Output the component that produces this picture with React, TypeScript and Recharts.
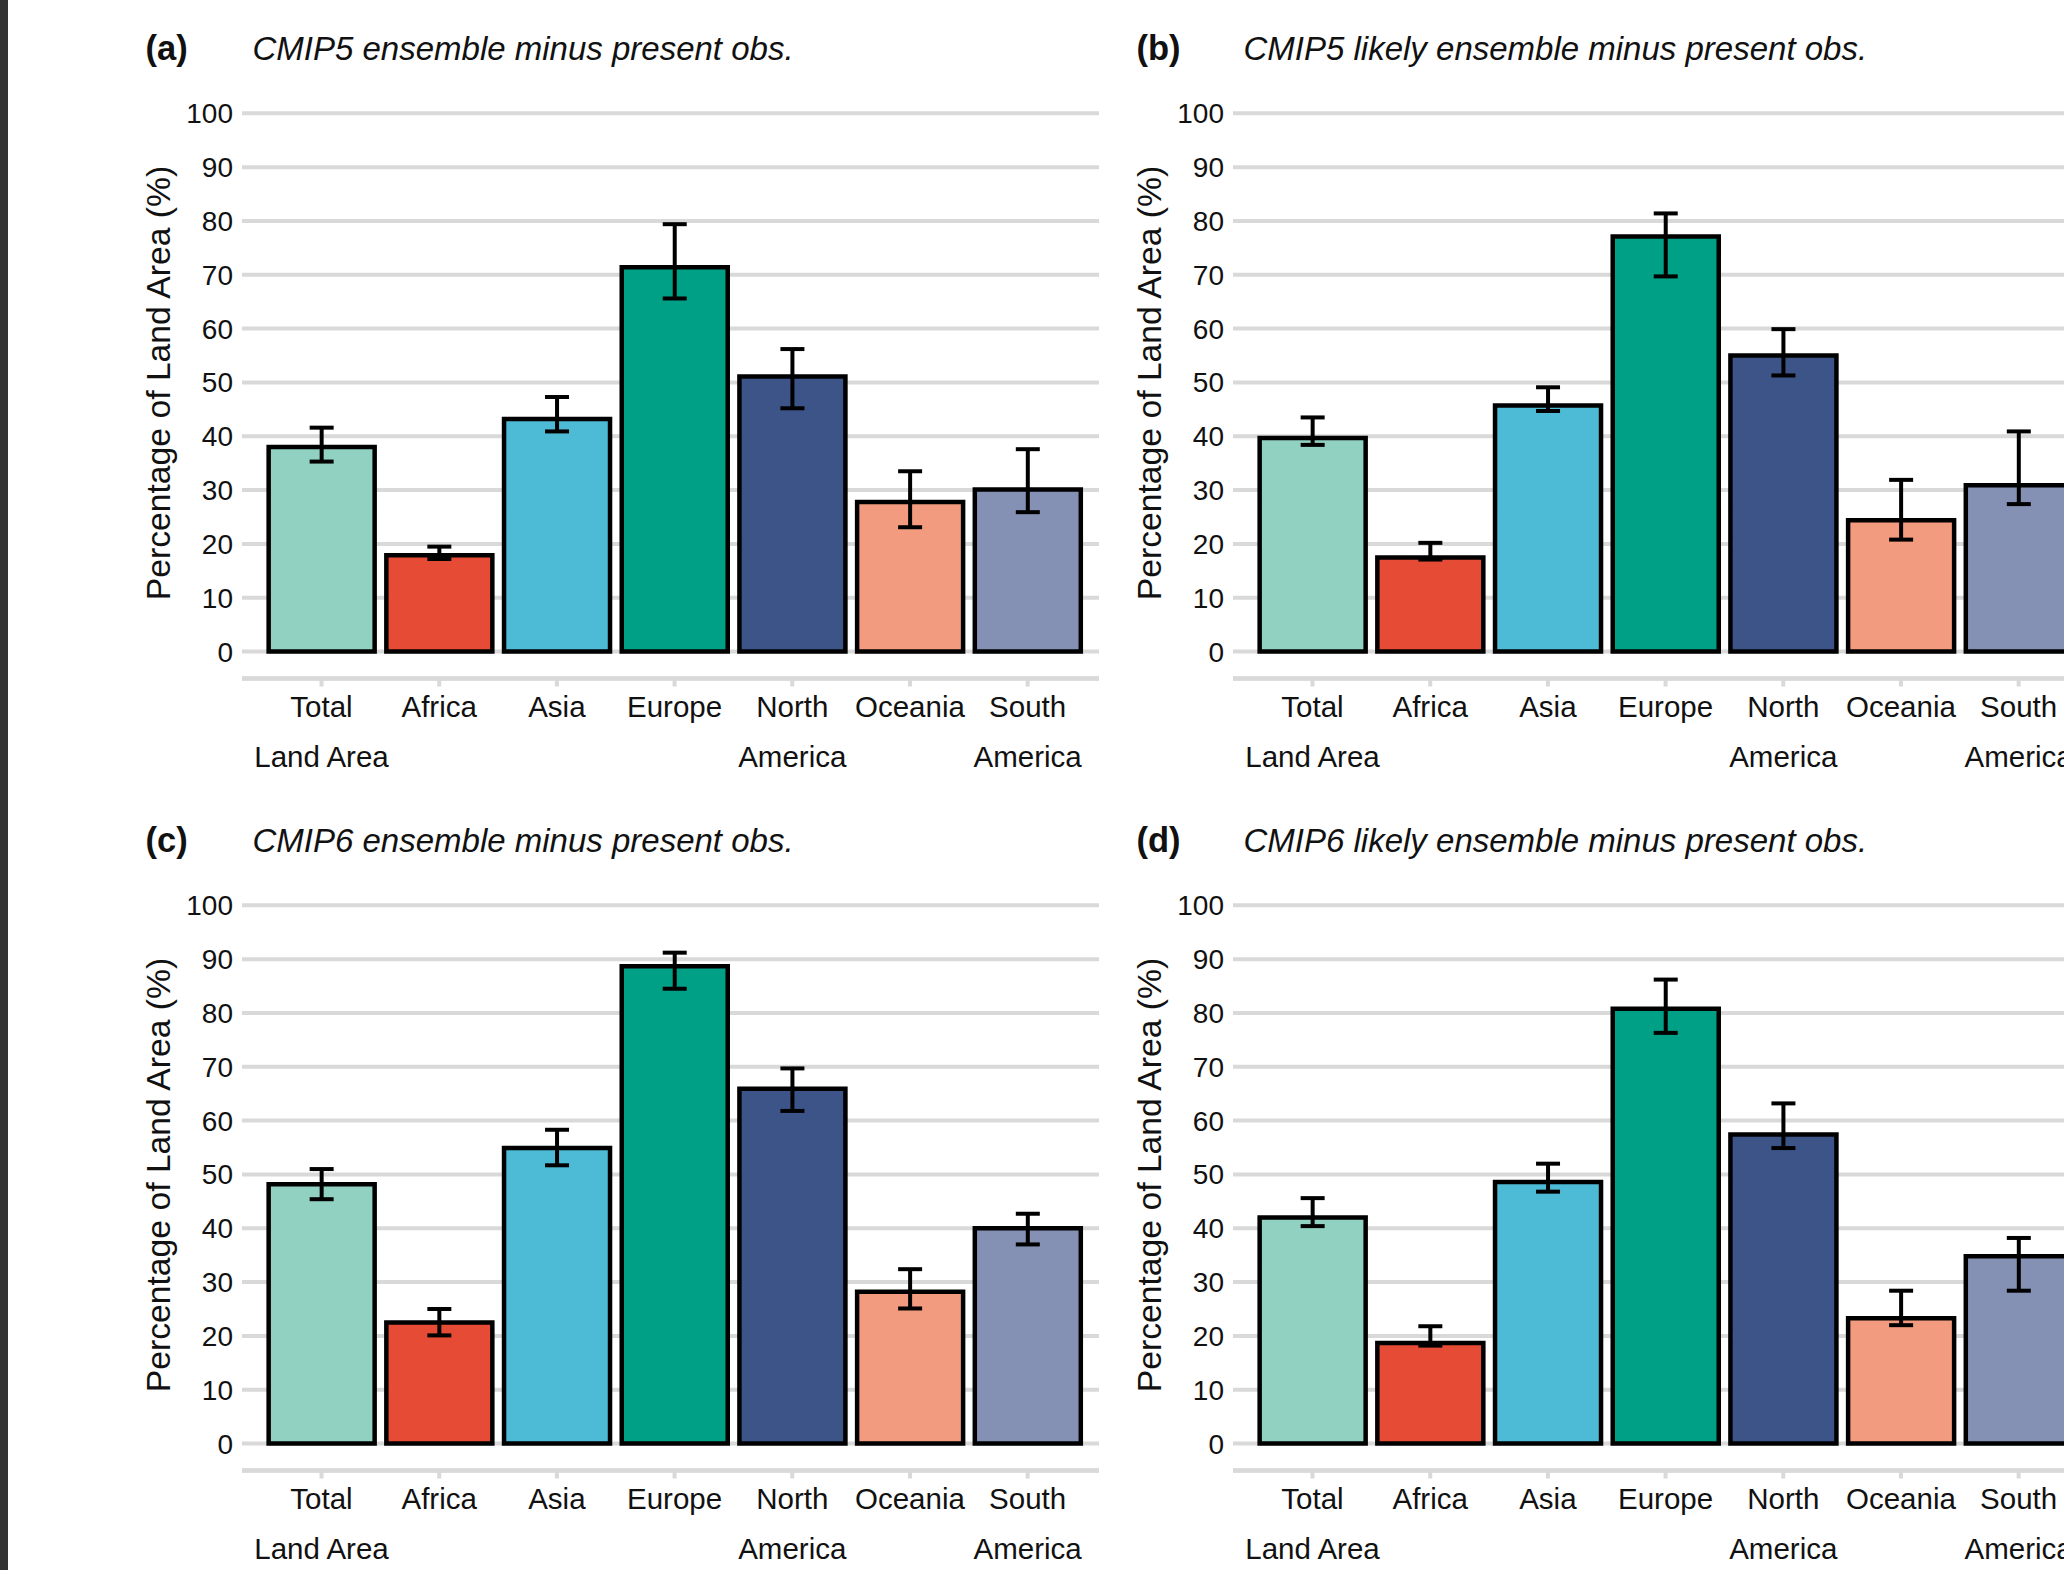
import React from "react";
import { BarChart, Bar, XAxis, YAxis, CartesianGrid, ErrorBar, Cell } from "recharts";

// regions on the x axis, in drawing order
const regions = [
  "Total Land Area",
  "Africa",
  "Asia",
  "Europe",
  "North America",
  "Oceania",
  "South America",
];
const regionLines = [
  ["Total", "Land Area"],
  ["Africa"],
  ["Asia"],
  ["Europe"],
  ["North", "America"],
  ["Oceania"],
  ["South", "America"],
];
const regionColors = ["#91D1C2", "#E64B35", "#4DBBD5", "#00A087", "#3C5488", "#F39B7F", "#8491B4"];
const yTicks = [0, 10, 20, 30, 40, 50, 60, 70, 80, 90, 100];

// (a) CMIP5 ensemble
const cmip5Mean = [38.0, 17.9, 43.2, 71.4, 51.1, 27.8, 30.1];
const cmip5Low = [35.3, 17.2, 40.9, 65.6, 45.2, 23.1, 25.9];
const cmip5High = [41.6, 19.5, 47.3, 79.4, 56.2, 33.5, 37.6];

// (b) CMIP5 likely ensemble
const cmip5LikelyMean = [39.7, 17.5, 45.7, 77.1, 55.0, 24.4, 30.9];
const cmip5LikelyLow = [38.4, 17.1, 44.7, 69.7, 51.3, 20.8, 27.4];
const cmip5LikelyHigh = [43.5, 20.2, 49.1, 81.4, 59.9, 31.9, 40.9];

// (c) CMIP6 ensemble
const cmip6Mean = [48.2, 22.5, 54.9, 88.7, 65.9, 28.2, 40.0];
const cmip6Low = [45.4, 20.1, 51.7, 84.5, 61.8, 25.1, 37.0];
const cmip6High = [51.0, 25.0, 58.3, 91.2, 69.7, 32.4, 42.7];

// (d) CMIP6 likely ensemble
const cmip6LikelyMean = [42.0, 18.7, 48.6, 80.8, 57.4, 23.3, 34.8];
const cmip6LikelyLow = [40.4, 18.2, 46.8, 76.3, 54.9, 22.0, 28.4];
const cmip6LikelyHigh = [45.6, 21.8, 52.0, 86.2, 63.2, 28.4, 38.2];

const panelTags = ["(a)", "(b)", "(c)", "(d)"];
const panelTitles = [
  "CMIP5 ensemble minus present obs.",
  "CMIP5 likely ensemble minus present obs.",
  "CMIP6 ensemble minus present obs.",
  "CMIP6 likely ensemble minus present obs.",
];
const panelSeries = [
  [cmip5Mean, cmip5Low, cmip5High],
  [cmip5LikelyMean, cmip5LikelyLow, cmip5LikelyHigh],
  [cmip6Mean, cmip6Low, cmip6High],
  [cmip6LikelyMean, cmip6LikelyLow, cmip6LikelyHigh],
];

const FONT = '"Liberation Sans", Arial, Helvetica, sans-serif';
const GRID = "#d9d9d9";

const XTick = (props: any) => {
  const { x, y, payload } = props;
  const lines = regionLines[regions.indexOf(payload.value)] || [payload.value];
  return (
    <g>
      {lines.map((t: string, i: number) => (
        <text
          key={t}
          x={x}
          y={y + 30 + i * 50.5}
          textAnchor="middle"
          fontSize={29.5}
          fontFamily={FONT}
          fill="#111"
        >
          {t}
        </text>
      ))}
    </g>
  );
};

const Panel = ({ idx }: { idx: number }) => {
  const [mean, low, high] = panelSeries[idx];
  const rows = regions.map((name, i) => ({
    name,
    value: mean[i],
    err: [mean[i] - low[i], high[i] - mean[i]],
  }));
  const left = (idx % 2) * 991;
  const top = Math.floor(idx / 2) * 792;
  return (
    <div style={{ position: "absolute", left, top, width: 1110, height: 792 }}>
      <div style={{ position: "absolute", left: 145.5, top: 30.5, fontSize: 34.5, fontWeight: "bold", lineHeight: 1, whiteSpace: "nowrap" }}>
        {panelTags[idx]}
      </div>
      <div style={{ position: "absolute", left: 252.5, top: 31.5, fontSize: 33, fontStyle: "italic", lineHeight: 1, whiteSpace: "nowrap" }}>
        {panelTitles[idx]}
      </div>
      <div
        style={{
          position: "absolute",
          left: 159,
          top: 383,
          transform: "translate(-50%, -50%) rotate(-90deg)",
          fontSize: 33.7,
          lineHeight: 1,
          whiteSpace: "nowrap",
        }}
      >
        Percentage of Land Area (%)
      </div>
      <BarChart width={1110} height={792} data={rows} margin={{ top: 113.3, right: 11, bottom: 13.5, left: 0 }}>
        <CartesianGrid vertical={false} stroke={GRID} strokeWidth={4} />
        <XAxis
          dataKey="name"
          interval={0}
          height={100}
          padding={{ left: 20.65, right: 12.5 }}
          axisLine={{ stroke: GRID, strokeWidth: 4.5 }}
          tickLine={{ stroke: GRID, strokeWidth: 4 }}
          tickSize={8}
          tickMargin={0}
          tick={(p: any) => <XTick {...p} />}
        />
        <YAxis
          type="number"
          domain={[-5, 100]}
          allowDataOverflow
          ticks={yTicks}
          interval={0}
          width={242}
          axisLine={false}
          tickLine={false}
          tickSize={0}
          tickMargin={9}
          tick={{ fontSize: 28, fill: "#111", fontFamily: FONT }}
        />
        <Bar dataKey="value" barSize={106} stroke="#000" strokeWidth={4.5} isAnimationActive={false}>
          {rows.map((r, i) => (
            <Cell key={r.name} fill={regionColors[i]} />
          ))}
          <ErrorBar dataKey="err" direction="y" width={12} stroke="#000" strokeWidth={4} isAnimationActive={false} />
        </Bar>
      </BarChart>
    </div>
  );
};

export default function App() {
  return (
    <div
      style={{
        position: "fixed",
        left: 0,
        top: 0,
        width: 2064,
        height: 1570,
        overflow: "hidden",
        background: "#fff",
        fontFamily: FONT,
        color: "#111",
      }}
    >
      {[0, 1, 2, 3].map((i) => (
        <Panel key={i} idx={i} />
      ))}
      <div style={{ position: "absolute", left: 0, top: 0, width: 8, height: 1570, background: "#333" }} />
    </div>
  );
}
